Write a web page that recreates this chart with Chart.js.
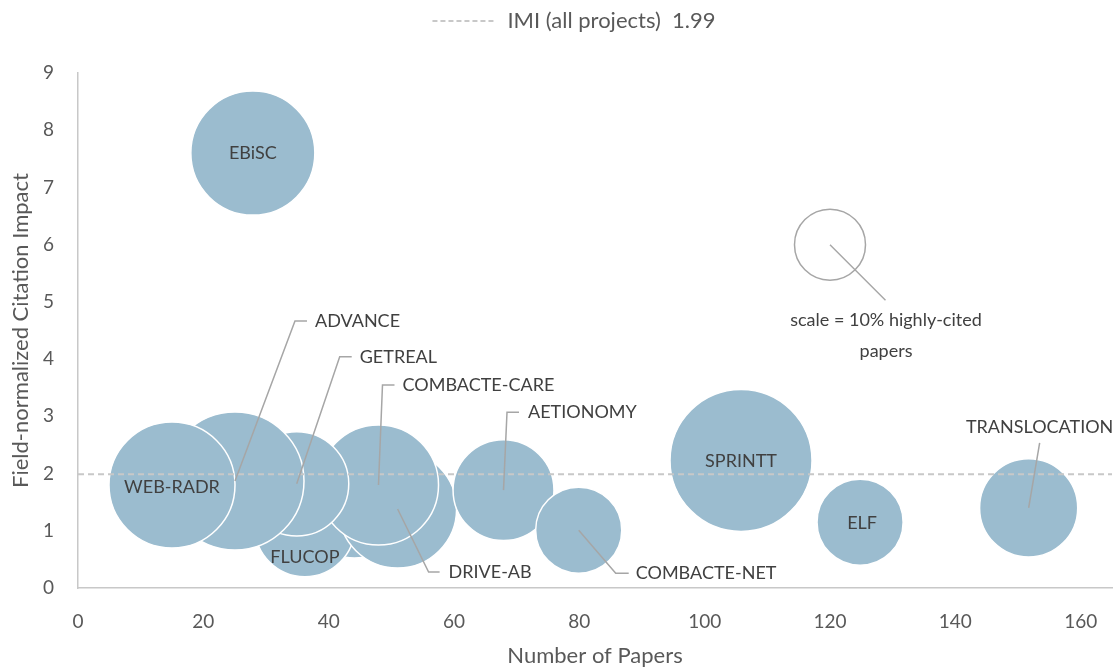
<!DOCTYPE html>
<html>
<head>
<meta charset="utf-8">
<script src="https://cdn.jsdelivr.net/npm/chart.js@4.4.1/dist/chart.umd.min.js"></script>
<style>
  html, body { margin: 0; padding: 0; background: #ffffff; }
  #wrap { width: 1120px; height: 669px; position: relative; }
</style>
</head>
<body>
<div id="wrap"><canvas id="c" width="1120" height="669"></canvas></div>
<script>
// ---- data ----
const projects   = ['EBiSC', '', 'FLUCOP', 'DRIVE-AB', 'COMBACTE-CARE', 'GETREAL', 'ADVANCE', 'WEB-RADR', 'AETIONOMY', 'COMBACTE-NET', 'SPRINTT', 'ELF', 'TRANSLOCATION'];
const papers     = [27.9, 44.1, 36.2, 51.0, 47.95, 34.9, 25.05, 15.0, 67.9, 79.9, 105.8, 124.8, 151.7];
const impact     = [7.60, 1.33, 1.07, 1.38, 1.80, 1.82, 1.87, 1.80, 1.71, 1.01, 2.23, 1.15, 1.40];
const highlyCited = [30.5, 16.8, 19.8, 27.6, 28.6, 21.5, 37.8, 31.5, 20.2, 14.7, 40.0, 14.7, 19.1]; // % highly-cited papers (bubble area)
const imiValue   = 1.99;
const imiLabel   = 'IMI (all projects)  1.99';
const scaleRef   = { x: 120, y: 6, pct: 10 };
const scaleText  = ['scale = 10% highly-cited', 'papers'];
const xTicks     = [0, 20, 40, 60, 80, 100, 120, 140, 160];
const yTicks     = [0, 1, 2, 3, 4, 5, 6, 7, 8, 9];

// ---- style ----
const FONT = 'Lato, "Open Sans", sans-serif';
const TEXT = '#404040';
const AXISTEXT = '#595959';
const BUBBLE = '#9BBCCF';
const LEADER = '#A6A6A6';
const DASH = '#C8C8C8';
const REF_RADIUS = 35.5; // pixel radius of the 10% reference bubble
const radiusOf = pct => REF_RADIUS * Math.sqrt(pct / scaleRef.pct);

// label placement (pixel offsets from bubble centre)
const labelStyle = {
  'EBiSC':         { type: 'center', dx: 0, dy: 0 },
  'WEB-RADR':      { type: 'center', dx: 0, dy: 2 },
  'FLUCOP':        { type: 'center', dx: 0, dy: 30 },
  'SPRINTT':       { type: 'center', dx: 0, dy: 1 },
  'ELF':           { type: 'center', dx: 2, dy: 1 },
  'ADVANCE':       { type: 'elbow', ex: 60, ey: -160, hx: 72, tx: 80 },
  'GETREAL':       { type: 'elbow', ex: 43, ey: -127, hx: 55, tx: 63 },
  'COMBACTE-CARE': { type: 'elbow', ex: 4,  ey: -100, hx: 16, tx: 24 },
  'AETIONOMY':     { type: 'elbow', ex: 3.5, ey: -78, hx: 15.5, tx: 24.5 },
  'DRIVE-AB':      { type: 'elbow', ex: 31, ey: 63, hx: 42, tx: 51 },
  'COMBACTE-NET':  { type: 'elbow', ex: 37, ey: 43, hx: 50, tx: 57 },
  'TRANSLOCATION': { type: 'above', ex: 11, ey: -65, tx: 11, ty: -81 }
};

const bubbleData = projects.map((p, i) => ({ x: papers[i], y: impact[i], r: radiusOf(highlyCited[i]), name: p }));

const labelPlugin = {
  id: 'bubbleLabels',
  afterDatasetsDraw(chart) {
    const ctx = chart.ctx;
    const xs = chart.scales.x, ys = chart.scales.y;
    ctx.save();
    ctx.font = '18px ' + FONT;
    ctx.fillStyle = TEXT;
    ctx.strokeStyle = LEADER;
    ctx.lineWidth = 1.5;
    bubbleData.forEach(d => {
      const st = labelStyle[d.name];
      if (!st) return;
      const cx = xs.getPixelForValue(d.x), cy = ys.getPixelForValue(d.y);
      if (st.type === 'center') {
        ctx.textAlign = 'center'; ctx.textBaseline = 'middle';
        ctx.fillText(d.name, cx + st.dx, cy + st.dy);
      } else if (st.type === 'elbow') {
        ctx.beginPath();
        ctx.moveTo(cx, cy);
        ctx.lineTo(cx + st.ex, cy + st.ey);
        ctx.lineTo(cx + st.hx, cy + st.ey);
        ctx.stroke();
        ctx.textAlign = 'left'; ctx.textBaseline = 'middle';
        ctx.fillText(d.name, cx + st.tx, cy + st.ey);
      } else if (st.type === 'above') {
        ctx.beginPath();
        ctx.moveTo(cx, cy);
        ctx.lineTo(cx + st.ex, cy + st.ey);
        ctx.stroke();
        ctx.textAlign = 'center'; ctx.textBaseline = 'middle';
        ctx.fillText(d.name, cx + st.tx, cy + st.ty);
      }
    });
    // reference scale bubble annotation
    const sx = xs.getPixelForValue(scaleRef.x), sy = ys.getPixelForValue(scaleRef.y);
    ctx.beginPath();
    ctx.moveTo(sx, sy);
    ctx.lineTo(sx + 55.5, sy + 55.5);
    ctx.stroke();
    ctx.font = '18px ' + FONT;
    ctx.textAlign = 'center'; ctx.textBaseline = 'middle';
    ctx.fillText(scaleText[0], sx + 56, sy + 76);
    ctx.fillText(scaleText[1], sx + 56, sy + 107);
    ctx.restore();
  }
};

const layoutPlugin = {
  id: 'fixLegend',
  beforeLayout(chart) {
    const lg = chart.legend;
    if (lg && !lg._patched) {
      const orig = lg.fit.bind(lg);
      lg.fit = function () { orig(); this.height = 73; };
      lg._patched = true;
    }
  },
  afterLayout(chart) {
    const lg = chart.legend;
    if (lg) { lg.left += 18; lg.right += 18; }
  }
};

new Chart(document.getElementById('c'), {
  data: {
    datasets: [
      {
        type: 'line',
        label: imiLabel,
        data: [{ x: 0, y: imiValue }, { x: 165, y: imiValue }],
        borderColor: DASH,
        borderWidth: 2,
        borderDash: [6, 4],
        pointRadius: 0,
        pointStyle: 'line',
        fill: false,
        order: -1
      },
      {
        type: 'bubble',
        label: 'projects',
        data: bubbleData,
        backgroundColor: BUBBLE,
        borderColor: '#FFFFFF',
        borderWidth: 1.5,
        hoverRadius: 0
      },
      {
        type: 'bubble',
        label: 'scale',
        data: [{ x: scaleRef.x, y: scaleRef.y, r: radiusOf(scaleRef.pct) }],
        backgroundColor: 'rgba(255,255,255,0)',
        borderColor: '#A6A6A6',
        borderWidth: 1.5
      }
    ]
  },
  options: {
    responsive: false,
    animation: false,
    events: [],
    layout: { autoPadding: false, padding: { left: 0, right: 8, top: 0, bottom: 0 } },
    plugins: {
      tooltip: { enabled: false },
      legend: {
        position: 'top',
        labels: {
          usePointStyle: true,
          pointStyleWidth: 64,
          color: AXISTEXT,
          font: { family: FONT, size: 22 },
          padding: 10,
          generateLabels: chart => Chart.defaults.plugins.legend.labels.generateLabels(chart)
            .filter(it => it.datasetIndex === 0)
            .map(it => Object.assign(it, { lineDash: [5, 3], lineWidth: 2, strokeStyle: DASH, pointStyle: 'line' }))
        }
      }
    },
    scales: {
      x: {
        type: 'linear',
        min: 0, max: 165,
        afterBuildTicks: s => { s.ticks = xTicks.map(v => ({ value: v })); },
        afterFit: s => { s.height = 81; },
        grid: { display: false },
        border: { display: true, color: '#C8C8C8', width: 1.5 },
        ticks: { color: AXISTEXT, font: { family: FONT, size: 19 }, padding: 14, maxRotation: 0 },
        title: { display: true, text: 'Number of Papers', color: AXISTEXT, font: { family: FONT, size: 22 }, padding: { top: 0, bottom: 0 } }
      },
      y: {
        type: 'linear',
        min: 0, max: 9,
        afterBuildTicks: s => { s.ticks = yTicks.map(v => ({ value: v })); },
        afterFit: s => { s.width = 78; },
        grid: { display: false },
        border: { display: true, color: '#C8C8C8', width: 1.5 },
        ticks: { color: AXISTEXT, font: { family: FONT, size: 19 }, padding: 16 },
        title: { display: true, text: 'Field-normalized Citation Impact', color: AXISTEXT, font: { family: FONT, size: 22 }, padding: { top: 8, bottom: 0 } }
      }
    }
  },
  plugins: [layoutPlugin, labelPlugin]
});
</script>
</body>
</html>
